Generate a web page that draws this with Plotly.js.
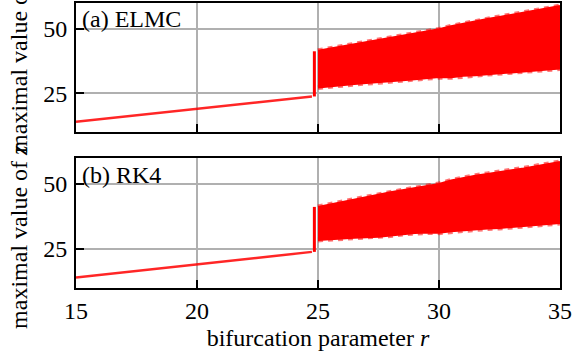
<!DOCTYPE html>
<html>
<head>
<meta charset="utf-8">
<script src="https://cdn.plot.ly/plotly-3.0.1.min.js"></script>
<style>html,body{margin:0;padding:0;background:#fff;}#chart{width:573px;height:360px;}</style>
</head>
<body>
<div id="chart"></div>
<script>
// ---- data ----
// stable branch (fixed point) before the chaotic onset
var stableR = [15, 16, 17, 18, 19, 20, 21, 22, 23, 24, 24.75];
var stableELMC = [14.0, 15.0, 16.0, 17.0, 18.0, 18.9, 20.0, 21.0, 22.0, 23.0, 23.8];
var stableRK4  = [14.0, 15.0, 16.0, 17.0, 18.0, 18.9, 20.0, 21.0, 22.0, 23.0, 23.9];

// jump at onset of chaos
var jumpR = [24.85, 24.85];
var jumpELMC = [23.8, 41.3];
var jumpRK4  = [23.9, 41.2];

// chaotic band envelope (maxima spread), sampled r
var chaosR = [25, 25.5, 26, 26.5, 27, 27.5, 28, 28.5, 29, 29.5, 30,
              30.5, 31, 31.5, 32, 32.5, 33, 33.5, 34, 34.5, 35];
var elmcUpper = [41.5, 42.3, 43.2, 44.0, 44.8, 45.6, 46.3, 47.2, 48.0, 48.8, 49.8,
                 51.0, 52.0, 53.0, 53.8, 54.6, 55.4, 56.3, 57.2, 58.0, 58.8];
var elmcLower = [27.3, 27.8, 28.3, 28.6, 29.0, 29.3, 29.7, 30.1, 30.5, 30.9, 31.3,
                 31.2, 31.8, 32.0, 32.5, 32.8, 33.1, 33.5, 33.9, 34.2, 34.6];
var rk4Upper  = [41.2, 42.2, 43.1, 44.0, 45.0, 45.9, 46.8, 47.6, 48.4, 49.1, 50.0,
                 51.4, 52.4, 53.2, 53.9, 54.5, 55.3, 56.0, 56.9, 57.7, 58.5];
var rk4Lower  = [28.5, 28.8, 29.2, 29.3, 29.5, 29.7, 30.2, 30.8, 31.2, 31.4, 31.3,
                 31.8, 32.2, 32.6, 32.9, 33.1, 33.6, 33.9, 34.2, 34.6, 35.0];

var xTicks = [15, 20, 25, 30, 35];
var yTicks = [25, 50];
var panelLabels = ['(a) ELMC', '(b) RK4'];
var xTitle = 'bifurcation parameter <i>r</i>';
var yTitle = 'maximal value of <i>z</i>';

var RED = '#ff0000';
function panel(xa, ya, sUp, sLo, sStable, sJump) {
  return [
    {x: chaosR, y: sLo, xaxis: xa, yaxis: ya, mode: 'lines',
     line: {color: RED, width: 2}, hoverinfo: 'skip'},
    {x: chaosR, y: sUp, xaxis: xa, yaxis: ya, mode: 'lines', fill: 'tonexty',
     fillcolor: RED, line: {color: RED, width: 2}, hoverinfo: 'skip'},
    // speckled fringe along the envelope edges
    {x: chaosR, y: sUp, xaxis: xa, yaxis: ya, mode: 'lines',
     line: {color: 'rgba(255,0,0,0.55)', width: 5, dash: 'dot'}},
    {x: chaosR, y: sLo, xaxis: xa, yaxis: ya, mode: 'lines',
     line: {color: 'rgba(255,0,0,0.55)', width: 5, dash: 'dot'}},
    {x: jumpR, y: sJump, xaxis: xa, yaxis: ya, mode: 'lines',
     line: {color: RED, width: 3}},
    {x: stableR, y: sStable, xaxis: xa, yaxis: ya, mode: 'lines',
     line: {color: 'rgba(255,0,0,0.85)', width: 2.5}}
  ];
}
var data = [].concat(
  panel('x2', 'y2', elmcUpper, elmcLower, stableELMC, jumpELMC),
  panel('x', 'y', rk4Upper, rk4Lower, stableRK4, jumpRK4)
);

var FONT = 'Liberation Serif';
function axisCommon() {
  return {
    showline: true, linecolor: '#000', linewidth: 2, mirror: true,
    ticks: 'inside', ticklen: 8, tickwidth: 2, tickcolor: '#000',
    showgrid: true, gridcolor: '#b0b0b0', gridwidth: 2, zeroline: false,
    tickfont: {family: FONT, size: 24, color: '#000'}
  };
}
var xa = Object.assign(axisCommon(), {range: [15, 35], tickvals: xTicks, anchor: 'y',
  title: {text: xTitle, font: {family: FONT, size: 24, color: '#000'}, standoff: 6}});
var xa2 = Object.assign(axisCommon(), {range: [15, 35], tickvals: xTicks, anchor: 'y2',
  showticklabels: false});
var ya = Object.assign(axisCommon(), {range: [10, 60], tickvals: yTicks, domain: [0, 0.456],
  anchor: 'x', ticklabelstandoff: 2});
var ya2 = Object.assign(axisCommon(), {range: [10, 60], tickvals: yTicks, domain: [0.547, 1],
  anchor: 'x2', ticklabelstandoff: 2});

var layout = {
  width: 573, height: 360,
  margin: {l: 76, r: 13, t: 3, b: 72},
  paper_bgcolor: '#fff', plot_bgcolor: '#fff',
  showlegend: false,
  font: {family: FONT, size: 24, color: '#000'},
  xaxis: xa, xaxis2: xa2, yaxis: ya, yaxis2: ya2,
  annotations: [
    {text: panelLabels[0], xref: 'paper', yref: 'paper', x: 0.008, y: 0.998,
     xanchor: 'left', yanchor: 'top', showarrow: false,
     font: {family: FONT, size: 24, color: '#000'}},
    {text: panelLabels[1], xref: 'paper', yref: 'paper', x: 0.008, y: 0.45,
     xanchor: 'left', yanchor: 'top', showarrow: false,
     font: {family: FONT, size: 24, color: '#000'}},
    {text: yTitle, xref: 'paper', yref: 'paper', x: -0.118, y: (288 - 155) / 285,
     xanchor: 'center', yanchor: 'bottom', textangle: -90, showarrow: false,
     font: {family: FONT, size: 24, color: '#000'}},
    {text: yTitle, xref: 'paper', yref: 'paper', x: -0.118, y: (288 - 331) / 285,
     xanchor: 'center', yanchor: 'bottom', textangle: -90, showarrow: false,
     font: {family: FONT, size: 24, color: '#000'}}
  ]
};
Plotly.newPlot('chart', data, layout, {staticPlot: true, displayModeBar: false});
</script>
</body>
</html>
